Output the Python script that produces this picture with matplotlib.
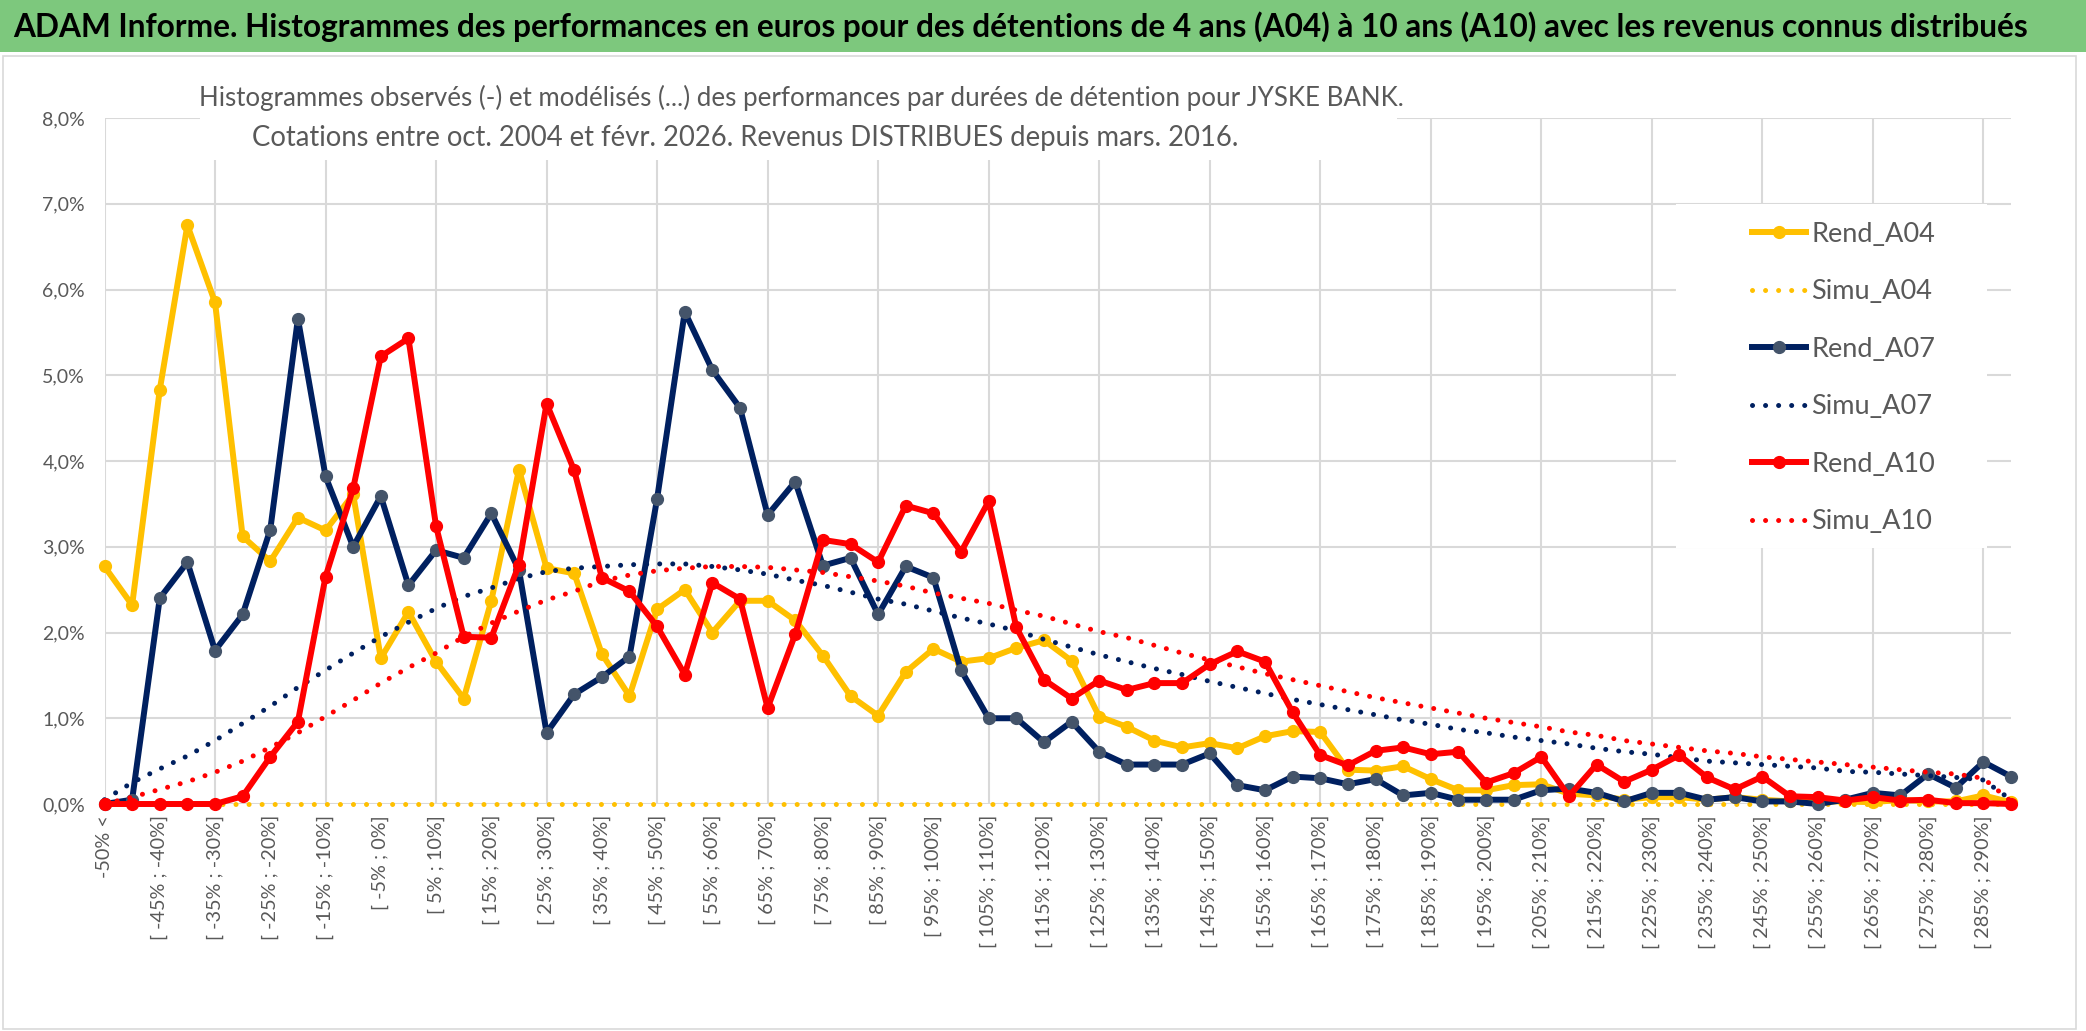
import matplotlib.pyplot as plt
from matplotlib.patches import Rectangle

plt.rcParams['font.family'] = ['Lato', 'DejaVu Sans']

# categories: first bin "-50% <" then 5% wide bins up to 295%
categories = ["-50% <"] + [f"[ {a}% ; {a + 5}%]" for a in range(-50, 295, 5)]

# values in percent
rend_a04 = [
    2.77, 2.32, 4.83, 6.75, 5.85, 3.12, 2.83, 3.34, 3.19, 3.61,
    1.70, 2.24, 1.66, 1.23, 2.37, 3.90, 2.75, 2.69, 1.75, 1.26,
    2.27, 2.50, 2.00, 2.37, 2.37, 2.14, 1.73, 1.26, 1.03, 1.54,
    1.81, 1.66, 1.70, 1.82, 1.91, 1.67, 1.02, 0.90, 0.74, 0.66,
    0.71, 0.65, 0.79, 0.85, 0.84, 0.40, 0.39, 0.44, 0.29, 0.16,
    0.16, 0.22, 0.23, 0.12, 0.10, 0.05, 0.08, 0.08, 0.05, 0.08,
    0.05, 0.03, 0.03, 0.03, 0.02, 0.05, 0.03, 0.03, 0.10, 0.02,
]
simu_a04 = [
    0.0, 0.0, 0.0, 0.0, 0.0, 0.0, 0.0, 0.0, 0.0, 0.0,
    0.0, 0.0, 0.0, 0.0, 0.0, 0.0, 0.0, 0.0, 0.0, 0.0,
    0.0, 0.0, 0.0, 0.0, 0.0, 0.0, 0.0, 0.0, 0.0, 0.0,
    0.0, 0.0, 0.0, 0.0, 0.0, 0.0, 0.0, 0.0, 0.0, 0.0,
    0.0, 0.0, 0.0, 0.0, 0.0, 0.0, 0.0, 0.0, 0.0, 0.0,
    0.0, 0.0, 0.0, 0.0, 0.0, 0.0, 0.0, 0.0, 0.0, 0.0,
    0.0, 0.0, 0.0, 0.0, 0.0, 0.0, 0.0, 0.0, 0.0, 0.0,
]
rend_a07 = [
    0.00, 0.05, 2.40, 2.82, 1.79, 2.21, 3.20, 5.66, 3.82, 3.00,
    3.59, 2.55, 2.96, 2.87, 3.39, 2.73, 0.83, 1.28, 1.48, 1.72,
    3.56, 5.74, 5.06, 4.62, 3.37, 3.76, 2.78, 2.87, 2.21, 2.77,
    2.64, 1.56, 1.00, 1.00, 0.72, 0.96, 0.61, 0.46, 0.46, 0.46,
    0.59, 0.22, 0.16, 0.32, 0.30, 0.23, 0.29, 0.10, 0.13, 0.05,
    0.05, 0.05, 0.16, 0.18, 0.13, 0.03, 0.13, 0.13, 0.05, 0.08,
    0.03, 0.03, 0.00, 0.05, 0.13, 0.10, 0.35, 0.19, 0.49, 0.32,
]
simu_a07 = [
    0.05, 0.25, 0.41, 0.56, 0.74, 0.94, 1.14, 1.36, 1.56, 1.76,
    1.95, 2.12, 2.28, 2.42, 2.52, 2.63, 2.71, 2.75, 2.77, 2.79,
    2.80, 2.80, 2.77, 2.73, 2.68, 2.61, 2.55, 2.47, 2.39, 2.33,
    2.25, 2.17, 2.10, 2.02, 1.92, 1.83, 1.74, 1.66, 1.58, 1.51,
    1.43, 1.36, 1.29, 1.22, 1.16, 1.10, 1.04, 0.98, 0.93, 0.87,
    0.83, 0.78, 0.74, 0.70, 0.65, 0.61, 0.58, 0.54, 0.50, 0.48,
    0.46, 0.44, 0.42, 0.38, 0.37, 0.35, 0.33, 0.31, 0.28, 0.05,
]
rend_a10 = [
    0.00, 0.00, 0.00, 0.00, 0.00, 0.09, 0.55, 0.96, 2.65, 3.68,
    5.22, 5.43, 3.24, 1.95, 1.94, 2.79, 4.67, 3.89, 2.64, 2.48,
    2.07, 1.51, 2.58, 2.39, 1.12, 1.98, 3.08, 3.03, 2.82, 3.48,
    3.39, 2.94, 3.53, 2.06, 1.45, 1.23, 1.44, 1.33, 1.41, 1.41,
    1.63, 1.78, 1.66, 1.07, 0.57, 0.45, 0.62, 0.66, 0.58, 0.61,
    0.25, 0.36, 0.55, 0.09, 0.46, 0.26, 0.40, 0.57, 0.31, 0.17,
    0.32, 0.09, 0.08, 0.04, 0.08, 0.04, 0.05, 0.01, 0.01, 0.00,
]
simu_a10 = [
    0.00, 0.08, 0.17, 0.26, 0.37, 0.50, 0.66, 0.83, 1.02, 1.21,
    1.41, 1.59, 1.76, 1.95, 2.11, 2.25, 2.38, 2.48, 2.60, 2.67,
    2.72, 2.75, 2.77, 2.77, 2.76, 2.73, 2.70, 2.65, 2.60, 2.54,
    2.46, 2.40, 2.34, 2.26, 2.19, 2.10, 2.01, 1.94, 1.85, 1.76,
    1.68, 1.60, 1.52, 1.45, 1.38, 1.31, 1.24, 1.18, 1.12, 1.06,
    1.00, 0.95, 0.90, 0.84, 0.80, 0.74, 0.70, 0.66, 0.62, 0.59,
    0.55, 0.52, 0.49, 0.46, 0.43, 0.40, 0.37, 0.35, 0.30, 0.03,
]

y_ticks = [0, 1, 2, 3, 4, 5, 6, 7, 8]

YELLOW = '#FFC000'
NAVY = '#002060'
NAVY_MARK = '#44546A'
RED = '#FF0000'
GREY_TXT = '#595959'
GRID = '#D9D9D9'

W, H = 2086, 1031


def fx(px):
    return px / W


def fy(py):
    return 1 - py / H


fig = plt.figure(figsize=(W / 100, H / 100), dpi=100)

# green header band with the main title
fig.add_artist(Rectangle((0, fy(52)), 1, 52 / H, transform=fig.transFigure,
                         facecolor='#7DC87D', edgecolor='none'))
fig.text(fx(13), fy(27),
         "ADAM Informe. Histogrammes des performances en euros pour des "
         "détentions de 4 ans (A04) à 10 ans (A10) avec les revenus connus "
         "distribués",
         fontsize=22.8, fontweight='bold', color='black', va='center',
         ha='left')

# chart area border
fig.add_artist(Rectangle((fx(3), fy(1029)), fx(2076 - 3), (1029 - 56) / H,
                         transform=fig.transFigure, facecolor='none',
                         edgecolor=GRID, linewidth=1.2))

ax = fig.add_axes([fx(104.5), fy(804), fx(2011 - 104.5), (804 - 118) / H])
x = list(range(len(categories)))

dot = (0, (0.01, 2.6))
series = [
    (rend_a04, 'Rend_A04', YELLOW, '-', YELLOW),
    (simu_a04, 'Simu_A04', YELLOW, dot, None),
    (rend_a07, 'Rend_A07', NAVY, '-', NAVY_MARK),
    (simu_a07, 'Simu_A07', NAVY, dot, None),
    (rend_a10, 'Rend_A10', RED, '-', RED),
    (simu_a10, 'Simu_A10', RED, dot, None),
]
for i, (vals, name, col, ls, mcol) in enumerate(series):
    if mcol:
        ax.plot(x, vals, color=col, linewidth=4.3, linestyle=ls, marker='o',
                markersize=8.5, markerfacecolor=mcol, markeredgecolor=mcol,
                label=name, clip_on=False, zorder=3 + i,
                solid_joinstyle='round')
    else:
        ax.plot(x, vals, color=col, linewidth=3.6, linestyle=ls,
                dash_capstyle='round', label=name, clip_on=False,
                zorder=3 + i)

ax.set_xlim(0, len(categories) - 1)
ax.set_ylim(0, 8)
ax.set_yticks(y_ticks)
ax.set_yticklabels([f"{v:.1f}%".replace('.', ',') for v in y_ticks],
                   fontsize=14, color=GREY_TXT)
ax.set_xticks(x[::2])
ax.set_xticklabels(categories[::2], rotation=90, fontsize=14.3,
                   color=GREY_TXT)
ax.set_xticks(x[::4], minor=True)
ax.xaxis.remove_overlapping_locs = False
ax.tick_params(axis='both', which='both', length=0)
ax.tick_params(axis='y', pad=14)
ax.tick_params(axis='x', pad=8)
ax.grid(True, axis='y', which='major', color=GRID, linewidth=1.5)
ax.grid(True, axis='x', which='minor', color=GRID, linewidth=1.5)
ax.set_axisbelow(True)
for s in ax.spines.values():
    s.set_visible(False)

# white boxes behind the chart title and the legend (they hide the grid)
ax.add_patch(Rectangle((fx(200), fy(160)), fx(1397 - 200), (160 - 60) / H,
                       transform=fig.transFigure, facecolor='white',
                       edgecolor='none', zorder=1, clip_on=False))
ax.add_patch(Rectangle((fx(1676), fy(548)), fx(1987 - 1676), (548 - 204) / H,
                       transform=fig.transFigure, facecolor='white',
                       edgecolor='none', zorder=1, clip_on=False))

fig.text(fx(801), fy(98),
         "Histogrammes observés (-) et modélisés (...) des performances par "
         "durées de détention pour JYSKE BANK.",
         fontsize=18.6, color=GREY_TXT, ha='center', va='center')
fig.text(fx(745), fy(138),
         "Cotations entre oct. 2004 et févr. 2026. Revenus DISTRIBUES depuis "
         "mars. 2016.",
         fontsize=19.8, color=GREY_TXT, ha='center', va='center')

leg = ax.legend(loc='upper left', bbox_to_anchor=(fx(1738), fy(208)),
                bbox_transform=fig.transFigure, frameon=False, borderpad=0,
                fontsize=19.5, handlelength=2.0, handletextpad=0.2,
                labelspacing=1.2)
for t in leg.get_texts():
    t.set_color(GREY_TXT)

fig.savefig('out.png', dpi=100)
